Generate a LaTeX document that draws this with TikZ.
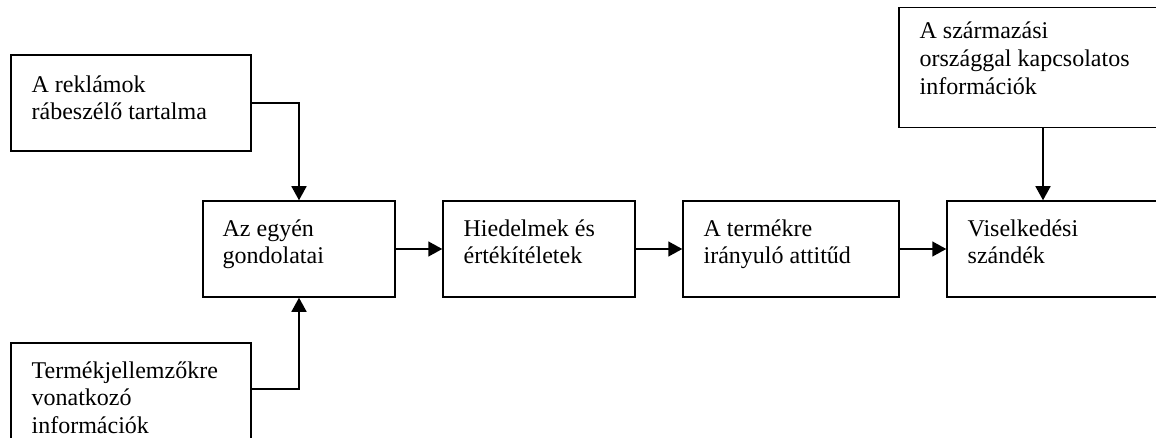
\documentclass[tikz,border=0pt]{standalone}
\usepackage{fontspec}
\setmainfont{Liberation Serif}
\usepackage{tikz}
\usetikzlibrary{arrows.meta}
\usetikzlibrary{positioning}
\usetikzlibrary{calc}

\tikzset{
  doboz/.style={draw, line width=0.75pt, rectangle, inner sep=0pt},
  szoveg/.style={anchor=north west, inner sep=0pt, align=left,
    font=\fontsize{12pt}{13.8pt}\selectfont},
  nyil/.style={line width=0.75pt, -{Triangle[length=7pt,width=7.5pt]}}
}

\begin{document}
\begin{tikzpicture}[x=0.5pt,y=-0.5pt]
  \clip (0,0) rectangle (1156,438);
  % boxes of the chain
  \node[doboz, minimum width=120pt, minimum height=48pt] (rekl) at (131,103) {};
  \node[doboz, minimum width=120pt, minimum height=51pt] (term) at (131,394) {};
  \node[doboz, minimum width=96pt, minimum height=48pt] (gond) at (299,249) {};
  \node[doboz, minimum width=96pt, minimum height=48pt] (hied) at (539,249) {};
  \node[doboz, minimum width=108pt, minimum height=48pt] (attit) at (791,249) {};
  \node[doboz, minimum width=112pt, minimum height=48pt] (visel) at (1059,249) {};
  \node[doboz, minimum width=144pt, minimum height=60pt] (szarm) at (1043,67.5) {};
  % texts
  \node[szoveg] (rekl-t) at ([shift={(10.5pt,-10.5pt)}]rekl.north west) {A reklámok\\rábeszélő tartalma};
  \node[szoveg] (term-t) at ([shift={(10.5pt,-9.5pt)}]term.north west) {Termékjellemzőkre\\vonatkozó\\információk};
  \node[szoveg] (gond-t) at ([shift={(10pt,-9.5pt)}]gond.north west) {Az egyén\\gondolatai};
  \node[szoveg] (hied-t) at ([shift={(10.5pt,-9.5pt)}]hied.north west) {Hiedelmek és\\értékítéletek};
  \node[szoveg] (attit-t) at ([shift={(10.5pt,-9.5pt)}]attit.north west) {A termékre\\irányuló attitűd};
  \node[szoveg] (visel-t) at ([shift={(10.5pt,-9.5pt)}]visel.north west) {Viselkedési\\szándék};
  \node[szoveg] (szarm-t) at ([shift={(10.5pt,-7.5pt)}]szarm.north west) {A származási\\országgal kapcsolatos\\információk};
  % arrows
  \draw[nyil] (rekl.east) -| (gond.north);
  \draw[nyil] ([yshift=2.5pt]term.east) -| (gond.south);
  \draw[nyil] (gond.east) -- (hied.west);
  \draw[nyil] (hied.east) -- (attit.west);
  \draw[nyil] (attit.east) -- (visel.west);
  \draw[nyil] (szarm.south) -- (szarm.south |- visel.north);
\end{tikzpicture}
\end{document}
